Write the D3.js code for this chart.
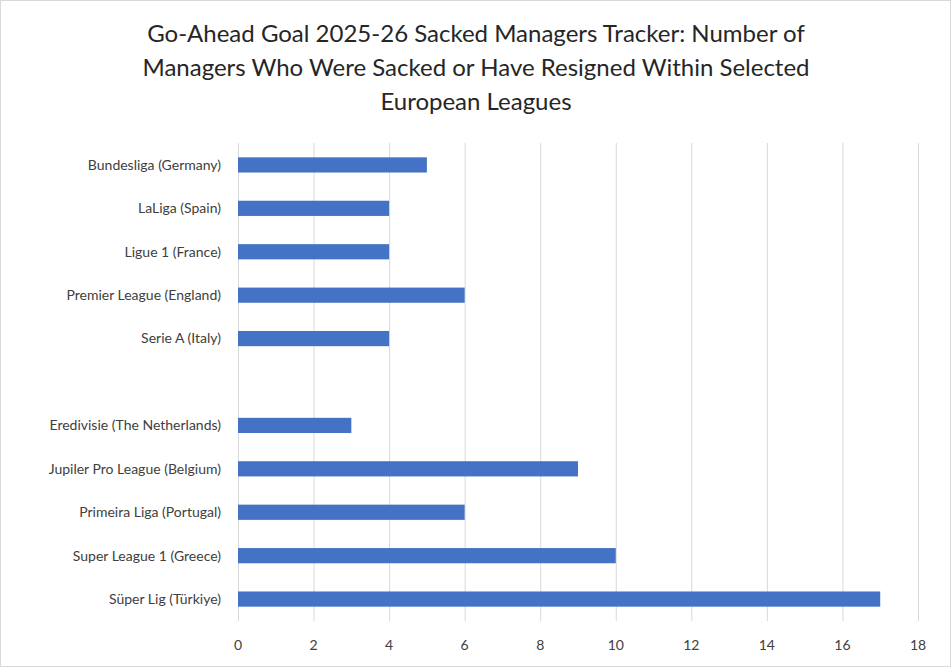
<!DOCTYPE html>
<html><head><meta charset="utf-8">
<script src="https://cdn.jsdelivr.net/npm/d3@7"></script>
<style>body{margin:0;background:#fff}</style>
</head><body>
<svg id="c" width="952" height="668"></svg>
<script>
const categories = ["Bundesliga (Germany)","LaLiga (Spain)","Ligue 1 (France)","Premier League (England)","Serie A (Italy)"," ","Eredivisie (The Netherlands)","Jupiler Pro League (Belgium)","Primeira Liga (Portugal)","Super League 1 (Greece)","Süper Lig (Türkiye)"];
const values = [5,4,4,6,4,null,3,9,6,10,17];
const xTicks = [0,2,4,6,8,10,12,14,16,18];
const titleLines = ["Go-Ahead Goal 2025-26 Sacked Managers Tracker: Number of","Managers Who Were Sacked or Have Resigned Within Selected","European Leagues"];

const svg = d3.select("#c");
const font = "Lato, 'Open Sans', sans-serif";
svg.append("rect").attr("x",0.5).attr("y",0.5).attr("width",950).attr("height",666).attr("fill","#fff").attr("stroke","#d9d9d9");
const x = d3.scaleLinear().domain([0,18]).range([238,918]);
const y = d3.scaleBand().domain(categories).range([143,621]).paddingInner(0.65).paddingOuter(0.33);

svg.append("g").selectAll("line").data(xTicks).join("line")
  .attr("x1",d=>x(d)+0.5).attr("x2",d=>x(d)+0.5).attr("y1",143).attr("y2",621)
  .attr("stroke","#d9d9d9").attr("stroke-width",1);

svg.append("g").selectAll("rect").data(categories.map((c,i)=>({c,v:values[i]})).filter(d=>d.v!=null)).join("rect")
  .attr("x",x(0)).attr("y",d=>y(d.c)).attr("width",d=>x(d.v)-x(0)).attr("height",y.bandwidth()).attr("fill","#4472c4");

svg.append("g").selectAll("text").data(xTicks).join("text")
  .attr("x",d=>x(d)).attr("y",650).attr("text-anchor","middle")
  .attr("font-family",font).attr("font-size",14).attr("fill","#404040").text(d=>d);

svg.append("g").selectAll("text").data(categories).join("text")
  .attr("x",221).attr("y",d=>y(d)+y.bandwidth()/2).attr("dy","0.35em").attr("text-anchor","end")
  .attr("font-family",font).attr("font-size",14).attr("fill","#404040").text(d=>d);

svg.append("g").selectAll("text").data(titleLines).join("text")
  .attr("x",476).attr("y",(d,i)=>42+i*34).attr("text-anchor","middle")
  .attr("font-family",font).attr("font-size",24).attr("fill","#262626").text(d=>d);
</script>
</body></html>
